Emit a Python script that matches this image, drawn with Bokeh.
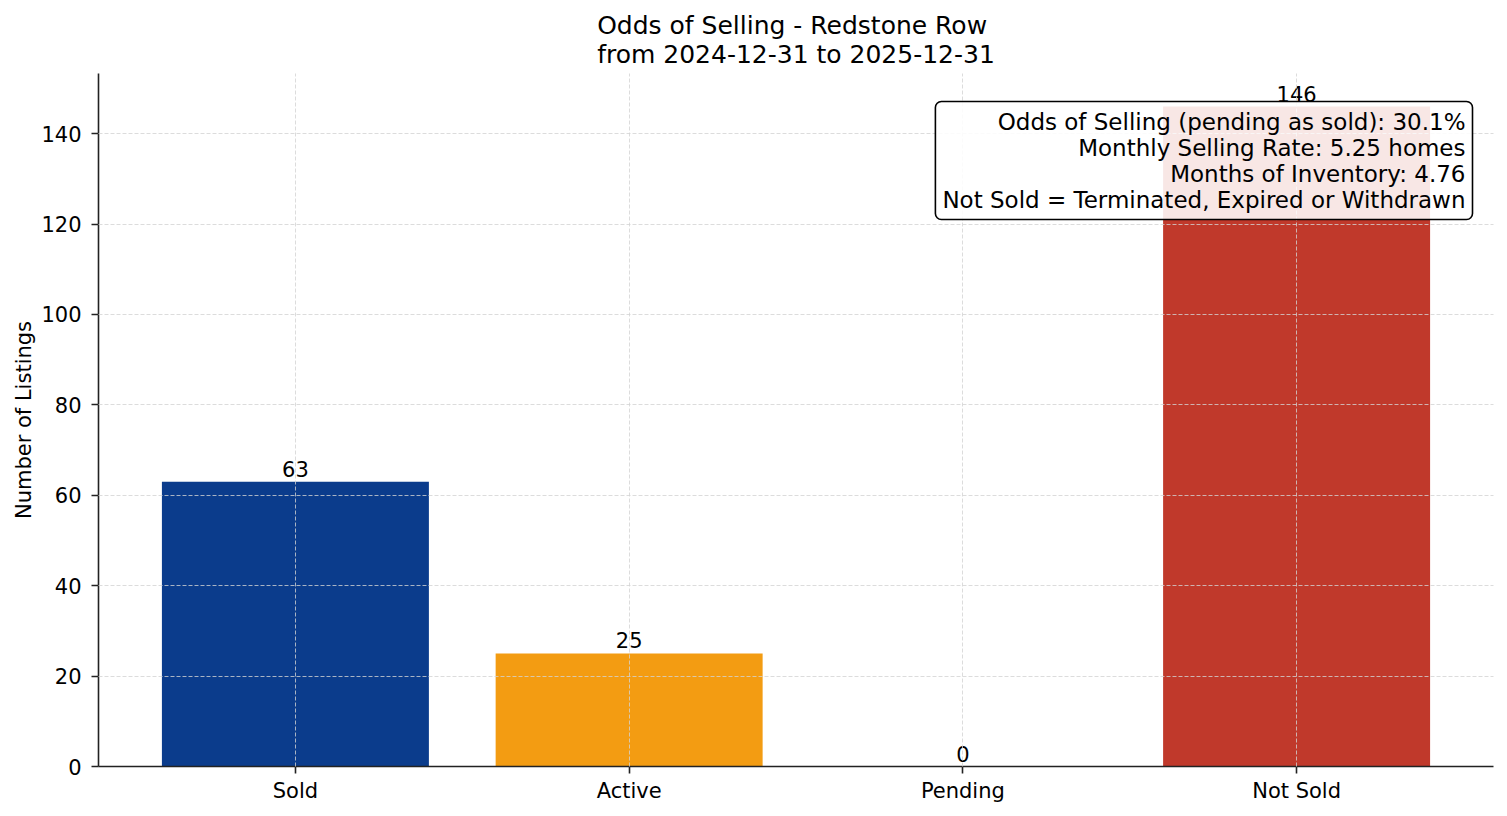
from bokeh.plotting import figure
from bokeh.models import ColumnDataSource, Label, Title, SingleIntervalTicker, Range1d
from bokeh.core.properties import value
from bokeh.embed import file_html
from bokeh.resources import INLINE

# data
categories = ["Sold", "Active", "Pending", "Not Sold"]
counts = [63, 25, 0, 146]
bar_colors = ["#0b3c8c", "#f39c12", "#7f8c8d", "#c0392b"]
title_line1 = "Odds of Selling - Redstone Row"
title_line2 = "from 2024-12-31 to 2025-12-31"
info_lines = [
    "Odds of Selling (pending as sold): 30.1%",
    "Monthly Selling Rate: 5.25 homes",
    "Months of Inventory: 4.76",
    "Not Sold = Terminated, Expired or Withdrawn",
]

FONT = "DejaVu Sans"

src = ColumnDataSource(data=dict(cat=categories, n=counts, color=bar_colors,
                                 lbl=[str(v) for v in counts]))

p = figure(x_range=categories, width=1507, height=816, title=None,
           output_backend="svg", toolbar_location=None,
           min_border_left=98, min_border_right=14, min_border_bottom=50, min_border_top=73)
p.x_range.range_padding = 0.09
p.x_range.range_padding_units = "absolute"
p.y_range = Range1d(0, max(counts) * 1.05)

p.vbar(x="cat", top="n", width=0.8, color="color", line_color=None, source=src)
p.text(x="cat", y="n", text="lbl", source=src, text_align="center", text_baseline="bottom",
       text_font=value(FONT), text_font_size="21px", text_color="black", y_offset=-5)

# two-line title
p.add_layout(Title(text=title_line1 + "\n" + title_line2, align="center", text_font=FONT,
                   text_font_size="25px", text_font_style="normal", text_color="black",
                   text_line_height=1.0, standoff=10), "above")

# axes
for ax in (p.xaxis[0], p.yaxis[0]):
    ax.axis_line_color = "#222222"
    ax.axis_line_width = 1.6
    ax.major_tick_line_color = "#222222"
    ax.major_tick_line_width = 1.6
    ax.major_tick_out = 7
    ax.major_tick_in = 0
    ax.minor_tick_out = 0
    ax.minor_tick_in = 0
    ax.major_label_text_font = FONT
    ax.major_label_text_font_size = "21px"
    ax.major_label_text_color = "black"
p.xaxis.major_label_standoff = 5
p.yaxis.major_label_standoff = 10
p.yaxis.ticker = SingleIntervalTicker(interval=20)
p.yaxis.axis_label = "Number of Listings"
p.yaxis.axis_label_text_font = FONT
p.yaxis.axis_label_text_font_size = "21px"
p.yaxis.axis_label_text_font_style = "normal"
p.yaxis.axis_label_text_color = "black"
p.yaxis.axis_label_standoff = 2

p.outline_line_color = None
p.grid.grid_line_color = "#d3d3d3"
p.grid.grid_line_dash = "4 2"
p.grid.grid_line_width = 0.8
p.grid.level = "guide"

info = Label(x=1374, y=665, x_units="screen", y_units="screen", anchor="top_right",
             text="\n".join(info_lines), text_align="right", text_font=FONT,
             text_font_size="23px", text_color="black", text_line_height=1.0,
             background_fill_color="white", background_fill_alpha=0.88,
             border_line_color="black", border_line_width=1.6, border_radius=6, padding=7)
p.add_layout(info)

open("out.html", "w").write(file_html(p, INLINE))
